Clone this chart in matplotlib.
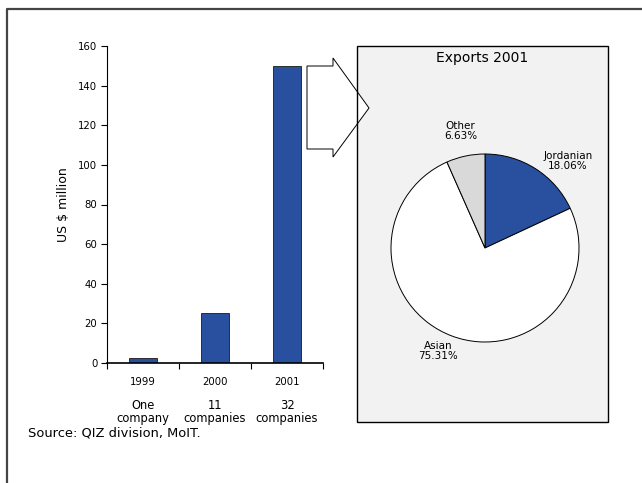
# Exports chart: bars per year + pie for 2001
import matplotlib.pyplot as plt
from matplotlib.patches import Rectangle, Polygon
from matplotlib.lines import Line2D

years = ["1999", "2000", "2001"]
firms = ["One\ncompany", "11\ncompanies", "32\ncompanies"]
exports = [2.5, 25, 150]

pie_names = ["Jordanian", "Asian", "Other"]
pie_shares = [18.06, 75.31, 6.63]

W, H = 642, 483
fig = plt.figure(figsize=(W / 100, H / 100), dpi=100)
plt.rcParams['font.family'] = ['DejaVu Sans']

def box(x0, y0, x1, y1):
    # pixel box (top-left origin) -> figure fraction
    return [x0 / W, 1 - y1 / H, (x1 - x0) / W, (y1 - y0) / H]

# outer frame (only left and top visible)
fig.add_artist(Line2D([7 / W, 7 / W, 1], [0, 1 - 8.5 / H, 1 - 8.5 / H],
                      transform=fig.transFigure, color="#444444", lw=1.6))

# bar chart
ax = fig.add_axes(box(107, 46, 323, 363))
ax.patch.set_alpha(0)
x = range(len(years))
ax.bar(x, exports, width=0.4, color="#28509e", edgecolor="#1a1a1a", lw=0.6)
ax.set_xlim(-0.5, 2.5)
ax.set_ylim(0, 160)
ax.set_yticks(range(0, 161, 20))
ax.tick_params(axis="y", labelsize=7.3, length=4, width=0.8, direction="out", pad=3)
ax.set_xticks(list(x))
ax.set_xticklabels(years, fontsize=7.3)
ax.tick_params(axis="x", length=0, pad=10)
ax.set_xticks([-0.5, 0.5, 1.5, 2.5], minor=True)
ax.tick_params(axis="x", which="minor", length=4, width=0.8, direction="out")
for s in ["top", "right"]:
    ax.spines[s].set_visible(False)
ax.spines["left"].set_linewidth(0.8)
ax.spines["bottom"].set_linewidth(1.2)
ax.set_ylabel("US $ million", fontsize=9, labelpad=6)
for i, f in enumerate(firms):
    ax.text(i, -0.115, f, transform=ax.get_xaxis_transform(), ha="center", va="top",
            fontsize=8.3, linespacing=1.0)

# pie panel background, then arrow, then panel border on top
b = box(357, 46, 608, 422)
fig.add_artist(Rectangle((b[0], b[1]), b[2], b[3], transform=fig.transFigure,
                         facecolor="#f2f2f2", edgecolor="none", zorder=-3))
arrow_px = [(307, 66), (333, 66), (333, 58), (369, 108), (333, 157), (333, 149), (307, 149)]
fig.add_artist(Polygon([(px / W, 1 - py / H) for px, py in arrow_px], closed=True,
                       transform=fig.transFigure, facecolor="white", edgecolor="black",
                       lw=0.7, zorder=-2))
fig.add_artist(Rectangle((b[0], b[1]), b[2], b[3], transform=fig.transFigure,
                         facecolor="none", edgecolor="black", lw=1.0, zorder=-1))
fig.text((357 + 608) / 2 / W, 1 - 58 / H, "Exports 2001", ha="center", va="center", fontsize=10)

pax = fig.add_axes(box(391, 154, 579, 342))
pax.patch.set_alpha(0)
labels = [f"{n}\n{v:.2f}%" for n, v in zip(pie_names, pie_shares)]
wedges, texts = pax.pie(pie_shares, labels=labels, colors=["#28509e", "white", "#d9d9d9"],
                        startangle=90, counterclock=False, labeldistance=1.27,
                        wedgeprops=dict(edgecolor="black", linewidth=0.7),
                        textprops=dict(fontsize=7.5, ha="center", va="center", linespacing=1.0))
# nudge labels like the reference
tx, ty = texts[0].get_position()
texts[0].set_position((tx + 0.2, ty - 0.15))
tx, ty = texts[1].get_position()
texts[1].set_position((tx - 0.05, ty + 0.09))
pax.set_xlim(-1, 1)
pax.set_ylim(-1, 1)
pax.set_aspect("equal")

fig.text(28 / W, 1 - 433 / H, "Source: QIZ division, MoIT.", ha="left", va="center", fontsize=9.4)

fig.savefig("out.png", dpi=100)
